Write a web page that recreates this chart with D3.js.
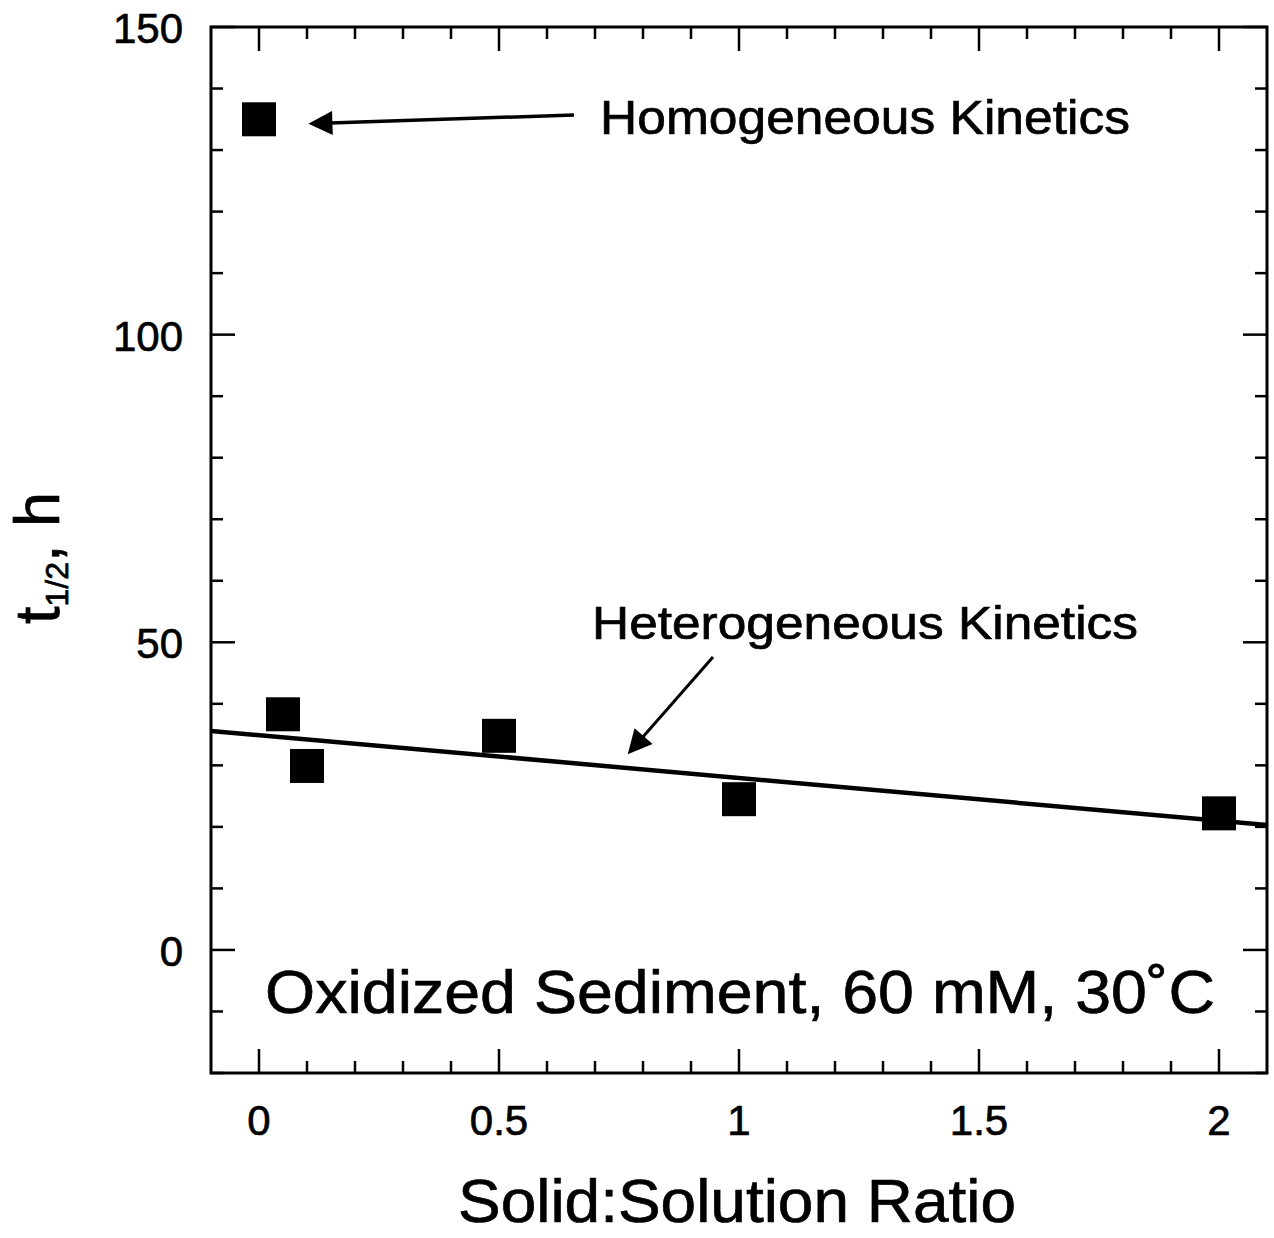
<html>
<head>
<script src="https://d3js.org/d3.v7.min.js"></script>
<style>
  body { margin: 0; background: #fff; }
  svg text { font-family: "Liberation Sans", Arial, Helvetica, sans-serif; fill: #000; stroke: #000; stroke-width: 0.7; }
</style>
</head>
<body>
<svg id="chart" width="1274" height="1238"></svg>
<script>
// data
const ratio = [0, 0.05, 0.1, 0.5, 1, 2];
const halfLife = [135, 38.3, 29.9, 34.8, 24.5, 22.2];
// heterogeneous fit line endpoints (x, t1/2)
const fitX = [-0.1, 2.1];
const fitY = [35.6, 20.3];
const xTicks = [0, 0.5, 1, 1.5, 2];
const yTicks = [0, 50, 100, 150];

const svg = d3.select("#chart");
const mLeft = 211, mRight = 1267, mTop = 27, mBottom = 1073;

const x = d3.scaleLinear().domain([-0.1, 2.1]).range([mLeft, mRight]);
const y = d3.scaleLinear().domain([-20, 150]).range([mBottom, mTop]);

// frame
svg.append("rect")
  .attr("x", mLeft).attr("y", mTop)
  .attr("width", mRight - mLeft).attr("height", mBottom - mTop)
  .attr("fill", "none").attr("stroke", "#000").attr("stroke-width", 3);

// inward ticks on all four sides
const xMinor = d3.range(0, 21).map(i => i / 10);
const yMinor = d3.range(-20, 151, 10);
const g = svg.append("g").attr("stroke", "#000").attr("stroke-width", 2.5);
xMinor.forEach(v => {
  const major = xTicks.some(t => Math.abs(t - v) < 1e-9);
  const len = major ? 24 : 12;
  g.append("line").attr("x1", x(v)).attr("x2", x(v)).attr("y1", mBottom).attr("y2", mBottom - len);
  g.append("line").attr("x1", x(v)).attr("x2", x(v)).attr("y1", mTop).attr("y2", mTop + len);
});
yMinor.forEach(v => {
  const major = yTicks.includes(v);
  const len = major ? 24 : 12;
  g.append("line").attr("y1", y(v)).attr("y2", y(v)).attr("x1", mLeft).attr("x2", mLeft + len);
  g.append("line").attr("y1", y(v)).attr("y2", y(v)).attr("x1", mRight).attr("x2", mRight - len);
});

// tick labels
svg.append("g").selectAll("text").data(xTicks).join("text")
  .attr("x", d => x(d)).attr("y", 1135)
  .attr("text-anchor", "middle").attr("font-size", 42)
  .text(d => d3.format("")(d));
svg.append("g").selectAll("text").data(yTicks).join("text")
  .attr("x", 183).attr("y", d => y(d) + 16)
  .attr("text-anchor", "end").attr("font-size", 42)
  .text(d => d);

// axis titles
svg.append("text").attr("x", 737).attr("y", 1222)
  .attr("text-anchor", "middle").attr("font-size", 62)
  .attr("textLength", 558).attr("lengthAdjust", "spacingAndGlyphs")
  .text("Solid:Solution Ratio");

const yl = svg.append("text")
  .attr("transform", "translate(59,558) rotate(-90)")
  .attr("text-anchor", "middle").attr("font-size", 63);
yl.append("tspan").text("t");
yl.append("tspan").attr("font-size", 32).attr("dy", 9).text("1/2");
yl.append("tspan").attr("dy", -9).text(", h");

// fit line
svg.append("line")
  .attr("x1", x(fitX[0])).attr("y1", y(fitY[0]))
  .attr("x2", x(fitX[1])).attr("y2", y(fitY[1]))
  .attr("stroke", "#000").attr("stroke-width", 4.5);

// points
const s = 34;
svg.append("g").selectAll("rect").data(ratio).join("rect")
  .attr("x", (d) => x(d) - s / 2)
  .attr("y", (d, i) => y(halfLife[i]) - s / 2)
  .attr("width", s).attr("height", s)
  .attr("fill", "#000");

// annotations
svg.append("defs").append("marker")
  .attr("id", "head").attr("viewBox", "0 0 10 10")
  .attr("refX", 1).attr("refY", 5)
  .attr("markerWidth", 28).attr("markerHeight", 24)
  .attr("markerUnits", "userSpaceOnUse")
  .attr("orient", "auto-start-reverse")
  .append("path").attr("d", "M0,0 L10,5 L0,10 Z").attr("fill", "#000");

svg.append("line")
  .attr("x1", 574).attr("y1", 115).attr("x2", 330).attr("y2", 123)
  .attr("stroke", "#000").attr("stroke-width", 3.5)
  .attr("marker-end", "url(#head)");
svg.append("text").attr("x", 600).attr("y", 134)
  .attr("font-size", 48)
  .attr("textLength", 530).attr("lengthAdjust", "spacingAndGlyphs")
  .text("Homogeneous Kinetics");

svg.append("line")
  .attr("x1", 713).attr("y1", 657).attr("x2", 642).attr("y2", 738)
  .attr("stroke", "#000").attr("stroke-width", 3)
  .attr("marker-end", "url(#head)");
svg.append("text").attr("x", 592).attr("y", 639)
  .attr("font-size", 47)
  .attr("textLength", 546).attr("lengthAdjust", "spacingAndGlyphs")
  .text("Heterogeneous Kinetics");

svg.append("text").attr("x", 265).attr("y", 1013)
  .attr("font-size", 62)
  .attr("textLength", 950).attr("lengthAdjust", "spacingAndGlyphs")
  .text("Oxidized Sediment, 60 mM, 30\u02DAC");
</script>
</body>
</html>
